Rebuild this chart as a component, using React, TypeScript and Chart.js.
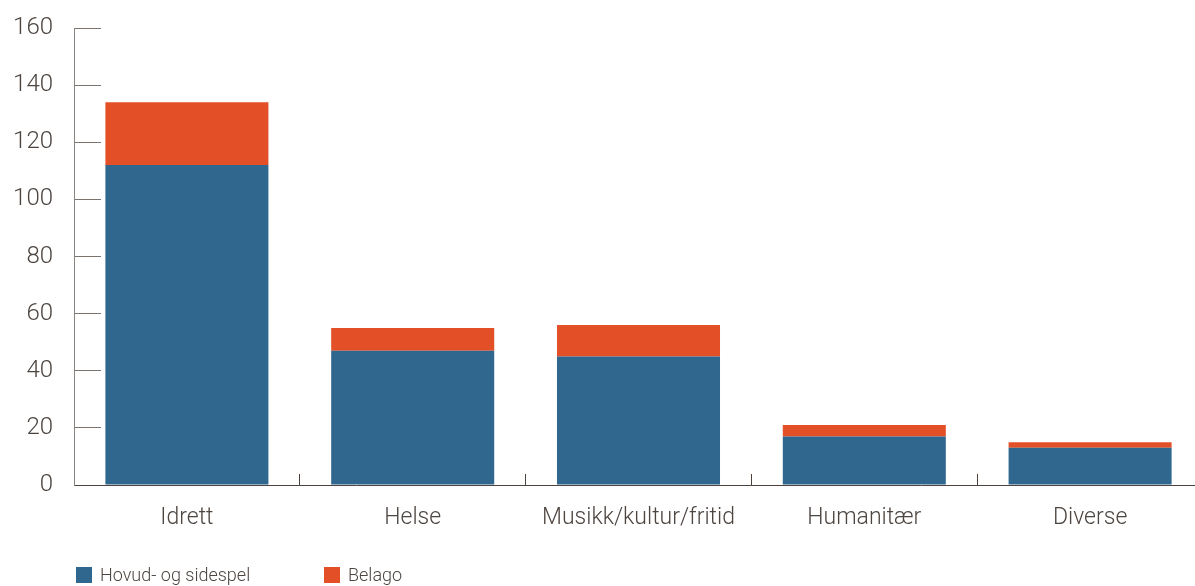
import React, { useEffect, useRef } from "react";
import { Chart, registerables } from "chart.js";

Chart.register(...registerables);

const categories = ["Idrett", "Helse", "Musikk/kultur/fritid", "Humanitær", "Diverse"];
const hovudValues = [112, 47, 45, 17, 13];
const belagoValues = [22, 8, 11, 4, 2];
const seriesNames = ["Hovud- og sidespel", "Belago"];
const seriesColors = ["#30678f", "#e34f26"];
const yMin = 0;
const yMax = 160;
const yStep = 20;

const FONT = "Roboto";
const TEXT_COLOR = "#4d4540";

const legendPlugin = {
  id: "customLegend",
  afterDraw(chart: any) {
    const ctx = chart.ctx;
    const items = chart.data.datasets.map((d: any) => ({ label: d.label, color: d.backgroundColor }));
    const starts = [76, 324];
    ctx.save();
    ctx.font = `300 18px ${FONT}`;
    ctx.textBaseline = "middle";
    ctx.textAlign = "left";
    items.forEach((it: any, i: number) => {
      const x = starts[i];
      ctx.fillStyle = it.color;
      ctx.fillRect(x, 567, 16, 16);
      ctx.fillStyle = TEXT_COLOR;
      ctx.fillText(it.label, x + 24, 576);
    });
    ctx.restore();
  },
};

export default function App() {
  const ref = useRef<HTMLCanvasElement | null>(null);
  useEffect(() => {
    if (!ref.current) return;
    const chart = new Chart(ref.current, {
      type: "bar",
      data: {
        labels: categories,
        datasets: [
          { label: seriesNames[0], data: hovudValues, backgroundColor: seriesColors[0] },
          { label: seriesNames[1], data: belagoValues, backgroundColor: seriesColors[1] },
        ],
      },
      options: {
        responsive: false,
        animation: false,
        devicePixelRatio: 1,
        layout: { padding: { left: 0, top: 28, right: 7, bottom: 0 } },
        datasets: { bar: { categoryPercentage: 1, barPercentage: 0.722 } },
        plugins: { legend: { display: false }, tooltip: { enabled: false } },
        scales: {
          x: {
            stacked: true,
            grid: {
              offset: true,
              drawOnChartArea: false,
              tickLength: -11,
              color: "#4d413b",
              lineWidth: 1,
            },
            border: { display: true, color: "#4d413b", width: 1 },
            ticks: {
              color: TEXT_COLOR,
              font: { family: FONT, size: 23, weight: "300" },
              padding: 30,
              maxRotation: 0,
              autoSkip: false,
            },
            afterFit(scale: any) {
              scale.height = 101;
              scale.paddingLeft = 0;
              scale.paddingRight = 0;
            },
          },
          y: {
            stacked: true,
            min: yMin,
            max: yMax,
            grid: {
              drawOnChartArea: false,
              tickLength: -27,
              color: "#7a726d",
              lineWidth: 1,
            },
            border: { display: true, color: "#8a8480", width: 1 },
            ticks: {
              stepSize: yStep,
              color: TEXT_COLOR,
              font: { family: FONT, size: 24, weight: "300" },
              padding: 48,
            },
            afterFit(scale: any) {
              scale.width = 74;
              scale.paddingTop = 0;
              scale.paddingBottom = 0;
            },
          },
        },
      },
      plugins: [legendPlugin],
    } as any);
    return () => chart.destroy();
  }, []);

  return (
    <div style={{ position: "fixed", left: 0, top: 0, width: 1195, height: 586, overflow: "hidden", background: "#fff" }}>
      <canvas ref={ref} width={1210} height={586} style={{ width: 1210, height: 586, display: "block" }} />
    </div>
  );
}
